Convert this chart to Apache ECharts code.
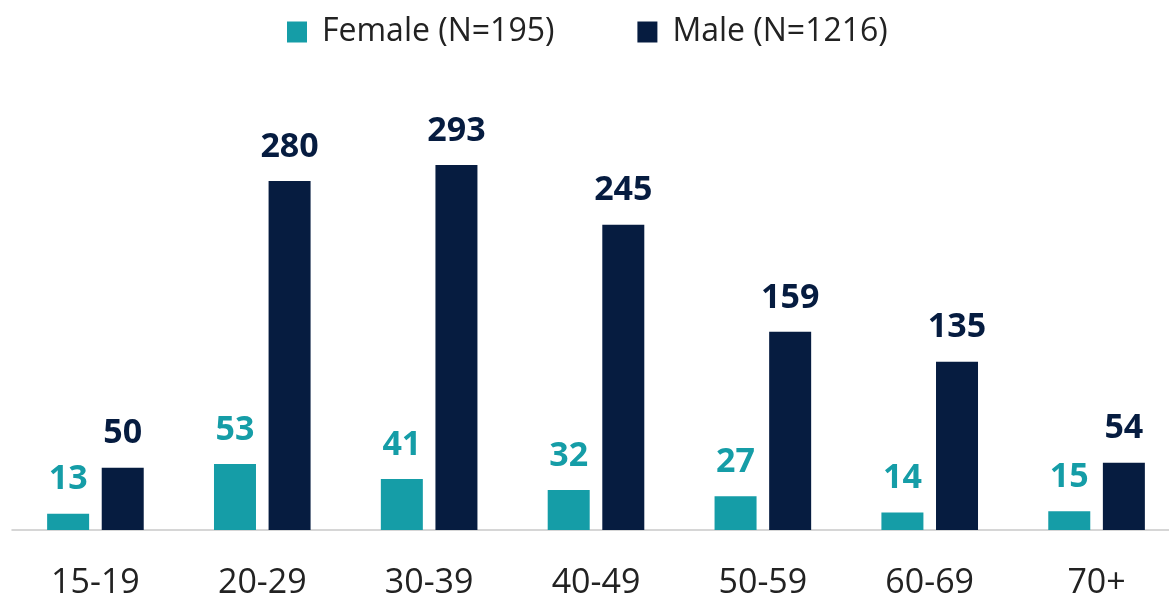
<!DOCTYPE html>
<html>
<head>
<meta charset="utf-8">
<script src="https://cdn.jsdelivr.net/npm/echarts@6/dist/echarts.min.js"></script>
<style>
html,body{margin:0;padding:0;background:#fff;overflow:hidden;}
#chart{width:1180px;height:600px;}
</style>
</head>
<body>
<div id="chart"></div>
<script>
const categories = ['15-19', '20-29', '30-39', '40-49', '50-59', '60-69', '70+'];
const femaleValues = [13, 53, 41, 32, 27, 14, 15];
const maleValues = [50, 280, 293, 245, 159, 135, 54];
const seriesNames = ['Female (N=195)', 'Male (N=1216)'];

const FEMALE = '#159DA7';
const MALE = '#061C40';
const FONT = '"Open Sans", "Noto Sans", sans-serif';

const chart = echarts.init(document.getElementById('chart'), null, {renderer: 'canvas'});
chart.setOption({
  animation: false,
  backgroundColor: '#fff',
  legend: {
    top: 11,
    left: 282,
    itemWidth: 20,
    itemHeight: 21,
    itemGap: 83,
    icon: 'rect',
    textStyle: {fontFamily: FONT, fontSize: 32, color: '#222', padding: [0, 0, 0, 10]},
    data: seriesNames
  },
  grid: {left: 12, right: 0, top: 130, bottom: 70, containLabel: false},
  xAxis: {
    type: 'category',
    data: categories,
    axisTick: {show: false},
    axisLine: {lineStyle: {color: '#c9c9c9', width: 1.5}},
    axisLabel: {fontFamily: FONT, fontSize: 34, color: '#222', margin: 36}
  },
  yAxis: {
    type: 'value',
    min: 0,
    max: 321,
    show: false,
    splitLine: {show: false}
  },
  series: [
    {
      name: seriesNames[0],
      type: 'bar',
      data: femaleValues,
      barWidth: 42,
      barGap: '30%',
      itemStyle: {color: FEMALE},
      label: {show: true, position: 'top', distance: 17, fontFamily: FONT, fontWeight: 'bold', fontSize: 34, color: FEMALE}
    },
    {
      name: seriesNames[1],
      type: 'bar',
      data: maleValues,
      barWidth: 42,
      itemStyle: {color: MALE},
      label: {show: true, position: 'top', distance: 17, fontFamily: FONT, fontWeight: 'bold', fontSize: 34, color: MALE}
    }
  ]
});
</script>
</body>
</html>
